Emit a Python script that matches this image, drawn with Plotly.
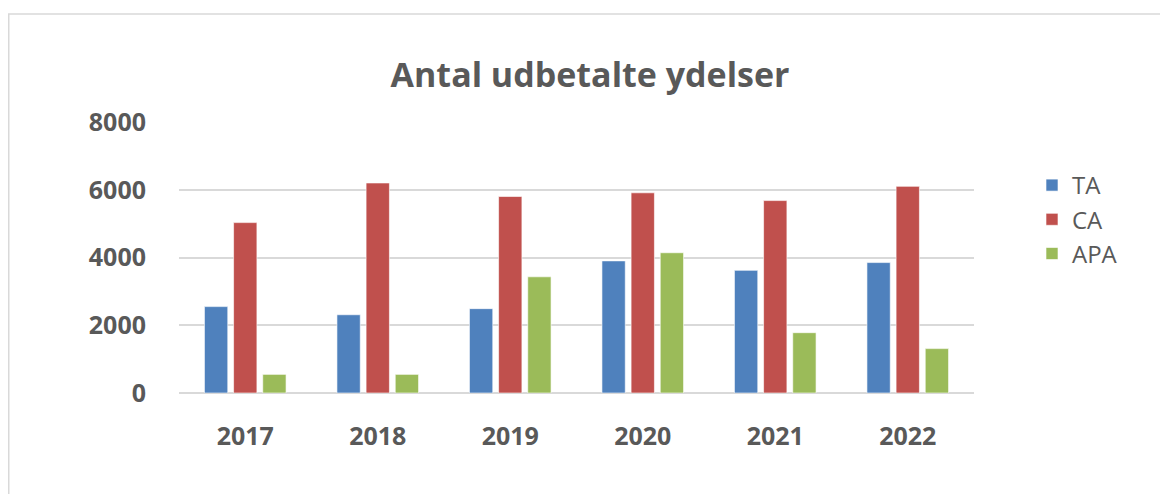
import plotly.graph_objects as go

years = ["2017", "2018", "2019", "2020", "2021", "2022"]
ta = [2550, 2310, 2490, 3900, 3620, 3850]
ca = [5030, 6200, 5800, 5910, 5680, 6100]
apa = [550, 550, 3430, 4140, 1780, 1310]
series_names = ["TA", "CA", "APA"]
colors = ["#4F81BD", "#C0504D", "#9BBB59"]
y_ticks = [0, 2000, 4000, 6000, 8000]

fig = go.Figure()
for name, vals, col in zip(series_names, [ta, ca, apa], colors):
    fig.add_trace(go.Bar(
        x=years, y=vals, name=name,
        marker=dict(color=col, line=dict(color="rgba(255,255,255,0.6)", width=1)),
    ))

# page body has an 8px margin, so figure coords = page coords - 8
W, H = 1160, 486
L, R, T, B = 171, 194, 114, 101
PW, PH = W - L - R, H - T - B

tick_font = dict(size=25, color="#595959", family="Open Sans", weight="bold")

fig.update_layout(
    width=W, height=H,
    margin=dict(l=L, r=R, t=T, b=B),
    paper_bgcolor="white", plot_bgcolor="white",
    barmode="group", bargap=0.34, bargroupgap=0.2,
    title=dict(text="Antal udbetalte ydelser", x=(590 - 8) / W, xanchor="center",
               y=1 - 67 / H, yanchor="middle",
               font=dict(family="Open Sans", size=34, color="#595959", weight="bold")),
    font=dict(family="Open Sans", color="#595959"),
    legend=dict(x=(1024 - L) / PW, xanchor="left", y=1 + (T - 155) / PH, yanchor="top",
                font=dict(size=24, color="#595959"),
                bgcolor="rgba(0,0,0,0)"),
    xaxis=dict(showgrid=False, showline=False, ticks="", ticklabelstandoff=26,
               tickfont=tick_font),
    yaxis=dict(range=[0, 8000], tickvals=y_ticks, showgrid=True,
               gridcolor="#D9D9D9", gridwidth=1.5, zeroline=True,
               zerolinecolor="#D9D9D9", zerolinewidth=1.5, showline=False,
               ticks="", ticklabelstandoff=32,
               tickfont=tick_font),
    shapes=[dict(type="rect", xref="paper", yref="paper",
                 x0=(0.75 - L) / PW, x1=(W + 20 - L) / PW,
                 y0=-(B + 20) / PH, y1=1 + (T - 6) / PH,
                 line=dict(color="#D9D9D9", width=1.5), layer="below")],
)

fig.write_html("out.html")
